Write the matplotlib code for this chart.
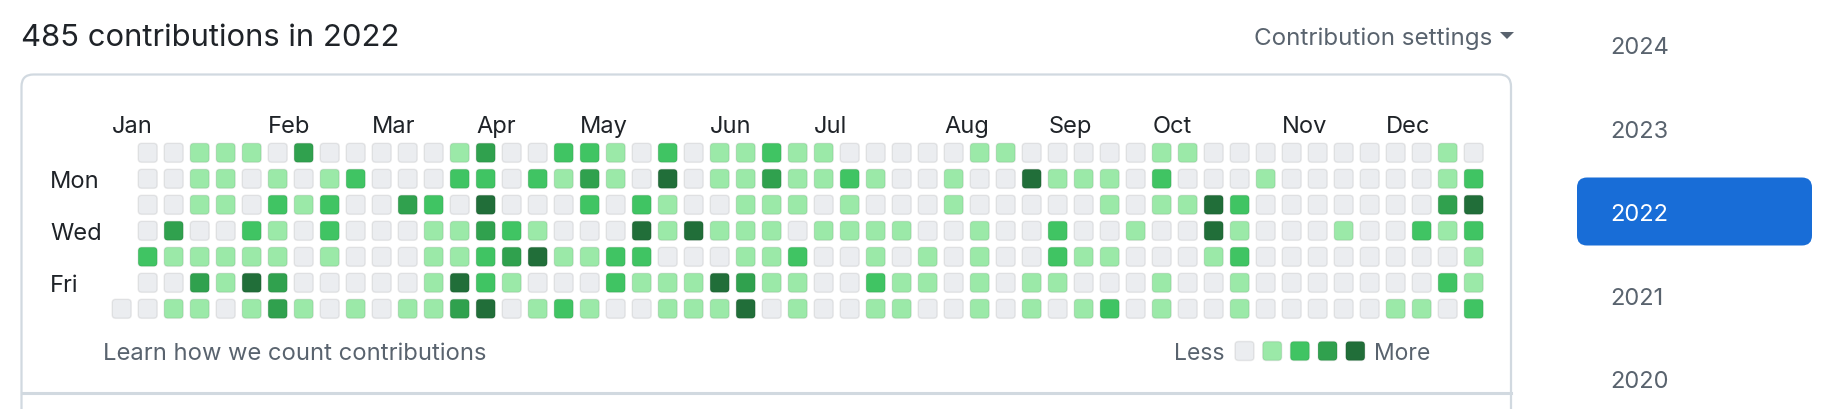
"""
GitHub-style contribution calendar for 2022, redrawn with matplotlib.
"""

import datetime as dt
import matplotlib.pyplot as plt
from matplotlib.patches import FancyBboxPatch, Polygon

plt.rcParams["font.family"] = ["Inter", "DejaVu Sans"]

# ---------------------------------------------------------------------------
# Data
# ---------------------------------------------------------------------------
YEAR     = 2022
TOTAL    = 485
YEARS    = ["2024", "2023", "2022", "2021", "2020"]
SELECTED = "2022"
MONTHS   = ["Jan", "Feb", "Mar", "Apr", "May", "Jun",
            "Jul", "Aug", "Sep", "Oct", "Nov", "Dec"]
DAY_LABELS = ["", "Mon", "", "Wed", "", "Fri", ""]

# contribution level (0-4) per weekday row, one value per week column.
# Jan 1 2022 is a Saturday, so only the Saturday row has the first column.
SUN = [0, 0, 1, 1, 1, 0, 3, 0, 0, 0,  0, 0, 1, 3, 0, 0, 2, 2, 1, 0, 2,
       0, 1, 1, 2, 1, 1, 0, 0, 0, 0, 0,  1, 1, 0, 0, 0, 0, 0, 1, 1, 0, 0,
       0, 0, 0, 0, 0, 0, 0, 1, 0]
MON = [0, 0, 1, 1, 0, 1, 0, 1, 2, 0,  0, 0, 2, 2, 0, 2, 1, 3, 1, 0, 4,
       0, 1, 1, 3, 1, 1, 2, 1, 0, 0, 1,  0, 0, 4, 1, 1, 1, 0, 2, 0, 0, 0,
       1, 0, 0, 0, 0, 0, 0, 1, 2]
TUE = [0, 0, 1, 1, 0, 2, 1, 2, 0, 0,  3, 2, 0, 4, 0, 0, 0, 2, 0, 2, 1,
       0, 0, 1, 1, 1, 0, 1, 0, 0, 0, 1,  0, 0, 0, 0, 0, 1, 0, 1, 1, 4, 2,
       0, 0, 0, 0, 0, 0, 0, 3, 4]
WED = [0, 3, 0, 0, 2, 1, 0, 2, 0, 0,  0, 1, 1, 3, 2, 1, 0, 0, 0, 4, 1,
       4, 1, 1, 1, 0, 1, 1, 1, 1, 0, 0,  1, 0, 0, 2, 0, 0, 1, 0, 0, 4, 1,
       0, 0, 0, 1, 0, 0, 2, 1, 2]
THU = [2, 1, 1, 1, 1, 1, 0, 1, 0, 0,  0, 1, 1, 2, 3, 4, 1, 1, 2, 2, 0,
       0, 0, 1, 1, 2, 0, 0, 1, 0, 1, 0,  1, 0, 0, 2, 1, 1, 0, 0, 0, 1, 2,
       0, 0, 0, 0, 0, 0, 0, 0, 1]
FRI = [0, 0, 3, 1, 4, 3, 0, 0, 0, 0,  0, 1, 4, 2, 1, 0, 0, 0, 2, 1, 1,
       1, 4, 3, 1, 1, 0, 0, 2, 1, 1, 0,  1, 0, 1, 1, 0, 0, 0, 1, 0, 0, 1,
       0, 0, 0, 0, 0, 0, 0, 2, 1]
SAT = [0, 0, 1, 1, 0, 1, 3, 1, 0, 1, 0,  1, 1, 3, 4, 0, 1, 2, 1, 0, 0, 1,
       1, 1, 4, 0, 1, 0, 0, 1, 1, 0, 0,  1, 0, 1, 0, 1, 2, 0, 1, 0, 0, 1,
       0, 0, 0, 0, 0, 1, 1, 0, 2]
WEEKDAYS = [SUN, MON, TUE, WED, THU, FRI, SAT]

LEVEL_COLORS = ["#ebedf0", "#9be9a8", "#40c463", "#30a14e", "#216e39"]

# ---------------------------------------------------------------------------
# Layout (pixels)
# ---------------------------------------------------------------------------
W, H   = 1832, 410
PITCH  = 26.0          # px between cell centres
CELL   = 19.0 / PITCH  # cell size in column units
GRID_X = 121.7 - PITCH / 2
GRID_Y = 153.8 - PITCH / 2
N_COLS = 53

TEXT  = "#1f2328"
MUTED = "#59636e"
LINE  = "#d1d9e0"
BLUE  = "#186dd7"


def frac(x0, y0, w, h):
    return [x0 / W, 1 - (y0 + h) / H, w / W, h / H]


fig = plt.figure(figsize=(W / 100, H / 100), dpi=100)
fig.patch.set_facecolor("white")

bg = fig.add_axes([0, 0, 1, 1])
bg.set_xlim(0, W)
bg.set_ylim(H, 0)
bg.axis("off")

# title + settings
bg.text(21, 46, f"{TOTAL} contributions in {YEAR}", fontsize=22.3,
        color=TEXT, ha="left", va="baseline")
bg.text(1492, 44.5, "Contribution settings", fontsize=17.4,
        color=MUTED, ha="right", va="baseline")
bg.add_patch(Polygon([[1500, 33], [1514, 33], [1507, 40]],
                     closed=True, color=MUTED, lw=0))

# card outline (bottom runs off the picture) and divider
bg.add_patch(FancyBboxPatch((21.5, 75.5), 1489.5, 420,
                            boxstyle="round,pad=0,rounding_size=12",
                            fc="white", ec=LINE, lw=1.6, zorder=1))
bg.plot([21.5, 1511], [394, 394], color=LINE, lw=2.2, zorder=2)

# footer
bg.text(103, 360, "Learn how we count contributions", fontsize=17.1,
        color=MUTED, ha="left", va="baseline", zorder=3)
bg.text(1225, 360.5, "Less", fontsize=16.5, color=MUTED,
        ha="right", va="baseline", zorder=3)
bg.text(1374, 360.5, "More", fontsize=16.5, color=MUTED,
        ha="left", va="baseline", zorder=3)
for k, c in enumerate(LEVEL_COLORS):
    cx = 1244.5 + 27.7 * k
    bg.add_patch(FancyBboxPatch((cx - 9.5, 342.5), 19, 19,
                                boxstyle="round,pad=0,rounding_size=3.5",
                                fc=c, ec=(0, 0, 0, 0.07), lw=1.1, zorder=3))

# year selector
for i, yr in enumerate(YEARS):
    cy = 45.5 + 83.5 * i
    if yr == SELECTED:
        bg.add_patch(FancyBboxPatch((1577, cy - 34), 235, 68,
                                    boxstyle="round,pad=0,rounding_size=10",
                                    fc=BLUE, ec="none", zorder=2))
    bg.text(1610, cy + 9, yr, fontsize=17,
            color="white" if yr == SELECTED else MUTED,
            ha="left", va="baseline", zorder=3)

# ---------------------------------------------------------------------------
# Calendar grid
# ---------------------------------------------------------------------------
hm = fig.add_axes(frac(GRID_X, GRID_Y, N_COLS * PITCH, 7 * PITCH))
hm.set_xlim(-0.5, N_COLS - 0.5)
hm.set_ylim(6.5, -0.5)
hm.axis("off")
hm.patch.set_alpha(0)

start = dt.date(YEAR, 1, 1)
first_sunday = start - dt.timedelta(days=(start.weekday() + 1) % 7)
day = start
while day.year == YEAR:
    idx = (day - first_sunday).days
    col, row = idx // 7, idx % 7
    values = WEEKDAYS[row]
    level = values[col - (N_COLS - len(values))]
    hm.add_patch(FancyBboxPatch((col - CELL / 2, row - CELL / 2), CELL, CELL,
                                boxstyle=f"round,pad=0,rounding_size={3.5 / PITCH}",
                                fc=LEVEL_COLORS[level], ec=(0, 0, 0, 0.07),
                                lw=1.1))
    day += dt.timedelta(days=1)

# month labels sit over the first week that starts in that month
for m, name in enumerate(MONTHS, start=1):
    d = dt.date(YEAR, m, 1)
    if m > 1:
        while d.weekday() != 6:
            d += dt.timedelta(days=1)
    col = max((d - first_sunday).days // 7, 0)
    hm.text(col - CELL / 2, -0.8, name, fontsize=17, color=TEXT,
            ha="left", va="baseline", clip_on=False)

for row, lab in enumerate(DAY_LABELS):
    if lab:
        hm.text(-2.76, row + 0.33, lab, fontsize=17, color=TEXT,
                ha="left", va="baseline", clip_on=False)

fig.savefig("out.png", dpi=100)
